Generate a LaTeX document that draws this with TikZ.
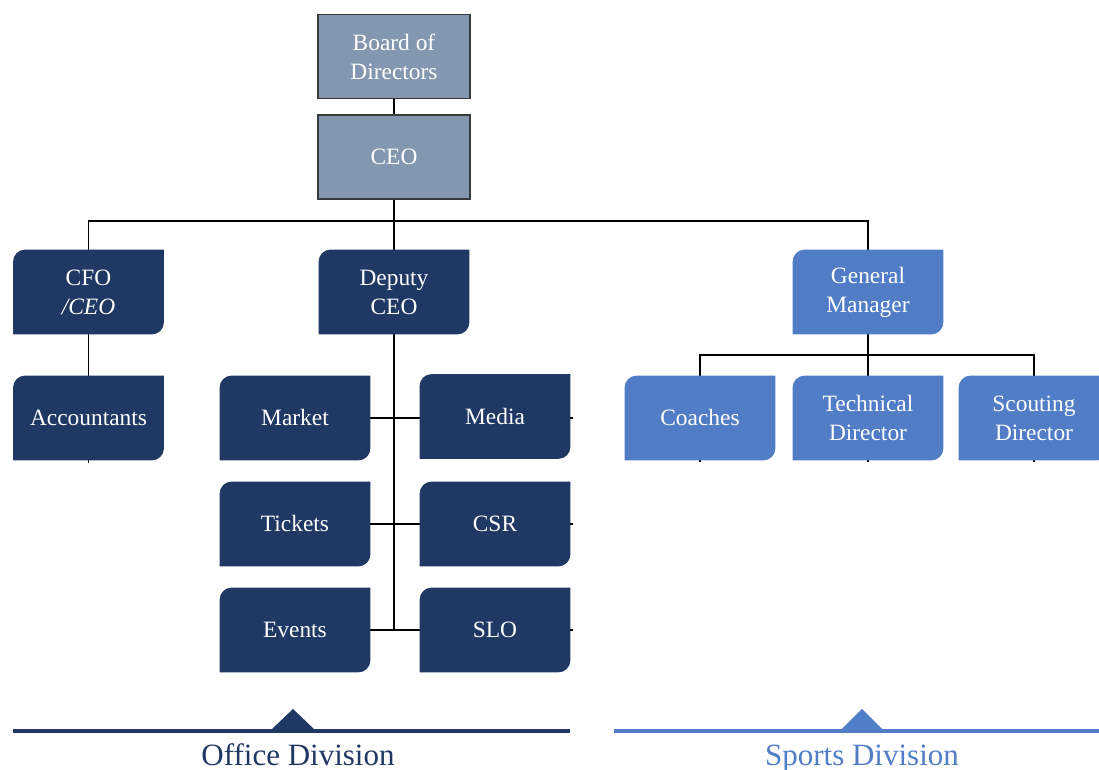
\documentclass[tikz,border=0pt]{standalone}
\usepackage{fontspec}
\setmainfont{Liberation Serif}
\usetikzlibrary{backgrounds}
\definecolor{navy}{HTML}{203864}
\definecolor{sky}{HTML}{517DC7}
\definecolor{slate}{HTML}{8497B0}
\definecolor{rim}{HTML}{3A3A3A}
\pgfdeclarelayer{wires}
\pgfsetlayers{wires,background,main}
% fill behind a unit node: round top-left and bottom-right corners only
\newcommand{\diagfill}[2]{%
  \fill[#2] (#1.south west) -- ([yshift=-6pt]#1.north west)
    arc[start angle=180,end angle=90,radius=6pt] -- (#1.north east)
    -- ([yshift=6pt]#1.south east)
    arc[start angle=0,end angle=-90,radius=6pt] -- cycle;}
\begin{document}
\begin{tikzpicture}[x=0.5pt,y=0.5pt,
    boxfont/.style={font=\fontsize{11.7}{14.5}\selectfont},
    head/.style={rectangle,draw=rim,line width=0.7pt,fill=slate,text=white,align=center,
      minimum width=76pt,minimum height=42pt,inner sep=0pt,boxfont},
    unit/.style={rectangle,text=white,align=center,
      minimum width=75pt,minimum height=42pt,inner sep=0pt,boxfont},
    wire/.style={line width=0.6pt,black},
    division/.style={font=\fontsize{15.5}{18}\selectfont,anchor=base}]
    \useasboundingbox (0,0) rectangle (1099,770);
    % top of the tree
    \node[head] (board) at (394,713.5) {Board of\\Directors};
    \node[head] (ceo) at (394,613) {CEO};
    \coordinate (bus) at (394,549);
    % second level
    \node[unit] (cfo) at (88.5,478) {CFO\\\textit{/CEO}};
    \node[unit] (deputy) at (394,478) {Deputy\\CEO};
    \node[unit] (gm) at (868,478) {General\\Manager};
    % office side
    \node[unit] (acct) at (88.5,352) {Accountants};
    \node[unit] (market) at (295,352) {Market};
    \node[unit] (media) at (495,353.5) {Media};
    \node[unit] (tickets) at (295,246) {Tickets};
    \node[unit] (csr) at (495,246) {CSR};
    \node[unit] (events) at (295,140) {Events};
    \node[unit] (slo) at (495,140) {SLO};
    % sports side
    \coordinate (sbus) at (868,415);
    \node[unit] (coaches) at (700,352) {Coaches};
    \node[unit] (tech) at (868,352) {Technical\\Director};
    \node[unit] (scout) at (1034,352) {Scouting\\Director};
    \begin{scope}[on background layer]
        \foreach \n in {cfo,deputy,acct,market,media,tickets,csr,events,slo}
            {\diagfill{\n}{navy}}
        \foreach \n in {gm,coaches,tech,scout}
            {\diagfill{\n}{sky}}
    \end{scope}
    \begin{pgfonlayer}{wires}
        \draw[wire] (board.south) -- (ceo.north);
        \draw[wire] (ceo.south) -- (deputy.north);
        \draw[wire] (cfo.north) |- (bus) -| (gm.north);
        \draw[wire] (cfo.south) -- ([yshift=-1.5pt]acct.south);
        \draw[wire] (deputy.south) -- (deputy.south |- events.east);
        \draw[wire] (market.east) -- ([xshift=1.5pt]market.east -| media.east);
        \draw[wire] (tickets.east) -- ([xshift=1.5pt]csr.east);
        \draw[wire] (events.east) -- ([xshift=1.5pt]slo.east);
        \draw[wire] ([yshift=-1pt]coaches.south) |- (sbus) -| ([yshift=-1pt]scout.south);
        \draw[wire] (gm.south) -- ([yshift=-1pt]tech.south);
    \end{pgfonlayer}
    % division markers
    \draw[navy,line width=2pt] (13,39) -- (570,39);
    \fill[navy] (271,40) -- (293,61) -- (315,40) -- cycle;
    \node[division,text=navy] (officelbl) at (298,4) {Office Division};
    \draw[sky,line width=2pt] (614,39) -- (1099,39);
    \fill[sky] (841,40) -- (862,61) -- (883,40) -- cycle;
    \node[division,text=sky] (sportslbl) at (862,4) {Sports Division};
\end{tikzpicture}
\end{document}
